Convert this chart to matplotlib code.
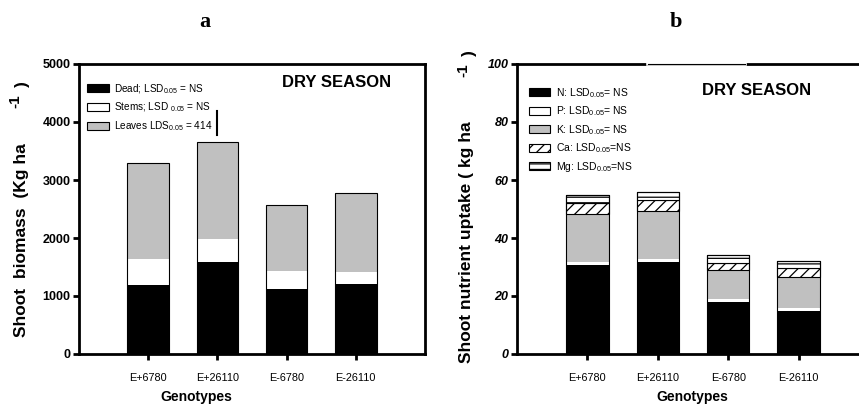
import matplotlib
matplotlib.use("Agg")
import matplotlib.pyplot as plt
import numpy as np

FONT = ["Liberation Sans", "DejaVu Sans"]
plt.rcParams["font.family"] = FONT
plt.rcParams["mathtext.fontset"] = "custom"
plt.rcParams["mathtext.rm"] = "Liberation Sans"
plt.rcParams["mathtext.it"] = "Liberation Sans"
plt.rcParams["mathtext.bf"] = "Liberation Sans:bold"
plt.rcParams["hatch.linewidth"] = 0.9

genotypes = ["E+6780", "E+26110", "E-6780", "E-26110"]

# Panel a: shoot biomass components (kg/ha)
dead = [1194, 1590, 1125, 1211]
stems = [442, 390, 304, 201]
leaves = [1653, 1683, 1148, 1372]
lsd_leaves = 414

# Panel b: shoot nutrient uptake (kg/ha)
n_up = [30.6, 31.6, 17.8, 14.7]
p_up = [1.2, 1.1, 1.3, 1.3]
k_up = [16.6, 16.7, 9.8, 10.5]
ca_up = [3.8, 3.6, 2.5, 3.1]
mg_up = [2.6, 2.7, 2.7, 2.5]

GRAY = "#c0c0c0"
W, H = 859, 417
fig = plt.figure(figsize=(W / 100, H / 100), dpi=100)


def px_axes(l, t, r, b):
    return fig.add_axes([l / W, 1 - b / H, (r - l) / W, (b - t) / H])


def fx(px):
    return px / W


def fy(py):
    return 1 - py / H


def style_axes(ax, italic=False):
    for s in ax.spines.values():
        s.set_linewidth(2.0)
    ax.tick_params(axis="both", direction="out", width=2.0, length=4, pad=2)
    ax.tick_params(axis="x", labelsize=7.8, pad=10)
    for lab in ax.get_yticklabels():
        lab.set_fontweight("bold")
        lab.set_fontsize(9.0)
        if italic:
            lab.set_style("italic")


def style_legend(leg):
    for h in leg.legend_handles:
        h.set_edgecolor("black")
        h.set_linewidth(0.8)


x = np.arange(1, 5)
bw = 0.6

# ---------------- Panel a ----------------
axa = px_axes(79, 64, 425, 354)
d = np.array(dead); s = np.array(stems); lv = np.array(leaves)
axa.bar(x, d, bw, color="black", edgecolor="none", label="Dead; LSD$_{0.05}$ = NS")
axa.bar(x, s, bw, bottom=d, color="white", edgecolor="none", label="Stems; LSD $_{0.05}$ = NS")
axa.bar(x, lv, bw, bottom=d + s, color=GRAY, edgecolor="none", label="Leaves LDS$_{0.05}$ = 414")
axa.bar(x, d + s + lv, bw, fill=False, edgecolor="black", linewidth=0.8)
# LSD bar for leaves
mid = 3990
axa.plot([2, 2], [mid - lsd_leaves / 2, mid + lsd_leaves / 2], color="black", lw=1.5)
axa.set_xlim(0, 5)
axa.set_ylim(0, 5000)
axa.set_yticks([0, 1000, 2000, 3000, 4000, 5000])
axa.set_xticks(x)
axa.set_xticklabels(genotypes)
style_axes(axa)
axa.text(0.744, 0.935, "DRY SEASON", transform=axa.transAxes, ha="center", va="center",
         fontsize=12, fontweight="bold")
la = axa.legend(loc="upper left", bbox_to_anchor=(0.002, 0.962), frameon=False, fontsize=7.2,
                handlelength=2.2, handleheight=0.85, labelspacing=0.52, handletextpad=0.5,
                borderaxespad=0.3)
style_legend(la)

fig.text(fx(196), fy(397), "Genotypes", ha="center", va="center", fontsize=10, fontweight="bold")
fig.text(fx(22), fy(240), "Shoot  biomass  (Kg ha", rotation=90, ha="center", va="center",
         fontsize=12.5, fontweight="bold")
fig.text(fx(15), fy(101), "-1", rotation=90, ha="center", va="center", fontsize=11, fontweight="bold")
fig.text(fx(22), fy(84), ")", rotation=90, ha="center", va="center", fontsize=12.5, fontweight="bold")
fig.text(fx(205), fy(22), "a", ha="center", va="center", fontsize=16, fontweight="bold",
         family=["Liberation Serif", "DejaVu Serif"])

# ---------------- Panel b ----------------
axb = px_axes(517, 64, 869, 354)
n = np.array(n_up); p = np.array(p_up); k = np.array(k_up); ca = np.array(ca_up); mg = np.array(mg_up)
axb.bar(x, n, bw, color="black", edgecolor="none", label="N: LSD$_{0.05}$= NS")
axb.bar(x, p, bw, bottom=n, color="white", edgecolor="none", label="P: LSD$_{0.05}$= NS")
axb.bar(x, k, bw, bottom=n + p, color=GRAY, edgecolor="none", label="K: LSD$_{0.05}$= NS")
axb.bar(x, ca, bw, bottom=n + p + k, color="white", edgecolor="black", linewidth=0.8, hatch="///",
        label="Ca: LSD$_{0.05}$=NS")
axb.bar(x, mg, bw, bottom=n + p + k + ca, color="white", edgecolor="black", linewidth=0.8, hatch="---",
        label="Mg: LSD$_{0.05}$=NS")
axb.bar(x, n + p + k + ca + mg, bw, fill=False, edgecolor="black", linewidth=0.8)
axb.set_xlim(0, 5)
axb.set_ylim(0, 100)
axb.set_yticks([0, 20, 40, 60, 80, 100])
axb.set_xticks(x)
axb.set_xticklabels(genotypes)
style_axes(axb, italic=True)
axb.text(0.68, 0.91, "DRY SEASON", transform=axb.transAxes, ha="center", va="center",
         fontsize=12, fontweight="bold")
lb = axb.legend(loc="upper left", bbox_to_anchor=(0.012, 0.95), frameon=False, fontsize=7.5,
                handlelength=2.1, handleheight=0.8, labelspacing=0.45, handletextpad=0.5,
                borderaxespad=0.3)
style_legend(lb)

# thinner stretch of the top border beneath the panel letter
fig.add_artist(plt.Line2D([fx(648), fx(745)], [fy(64), fy(64)], color="white", lw=2.6,
                          transform=fig.transFigure))
fig.add_artist(plt.Line2D([fx(648), fx(745)], [fy(64), fy(64)], color="black", lw=0.8,
                          transform=fig.transFigure))

fig.text(fx(692), fy(397), "Genotypes", ha="center", va="center", fontsize=10, fontweight="bold")
fig.text(fx(466), fy(242), "Shoot nutrient uptake ( kg ha", rotation=90, ha="center", va="center",
         fontsize=12.5, fontweight="bold")
fig.text(fx(463), fy(70), "-1", rotation=90, ha="center", va="center", fontsize=11, fontweight="bold")
fig.text(fx(469), fy(53), ")", rotation=90, ha="center", va="center", fontsize=12.5, fontweight="bold")
fig.text(fx(676), fy(22), "b", ha="center", va="center", fontsize=16, fontweight="bold",
         family=["Liberation Serif", "DejaVu Serif"])

fig.savefig("out.png", dpi=100)
